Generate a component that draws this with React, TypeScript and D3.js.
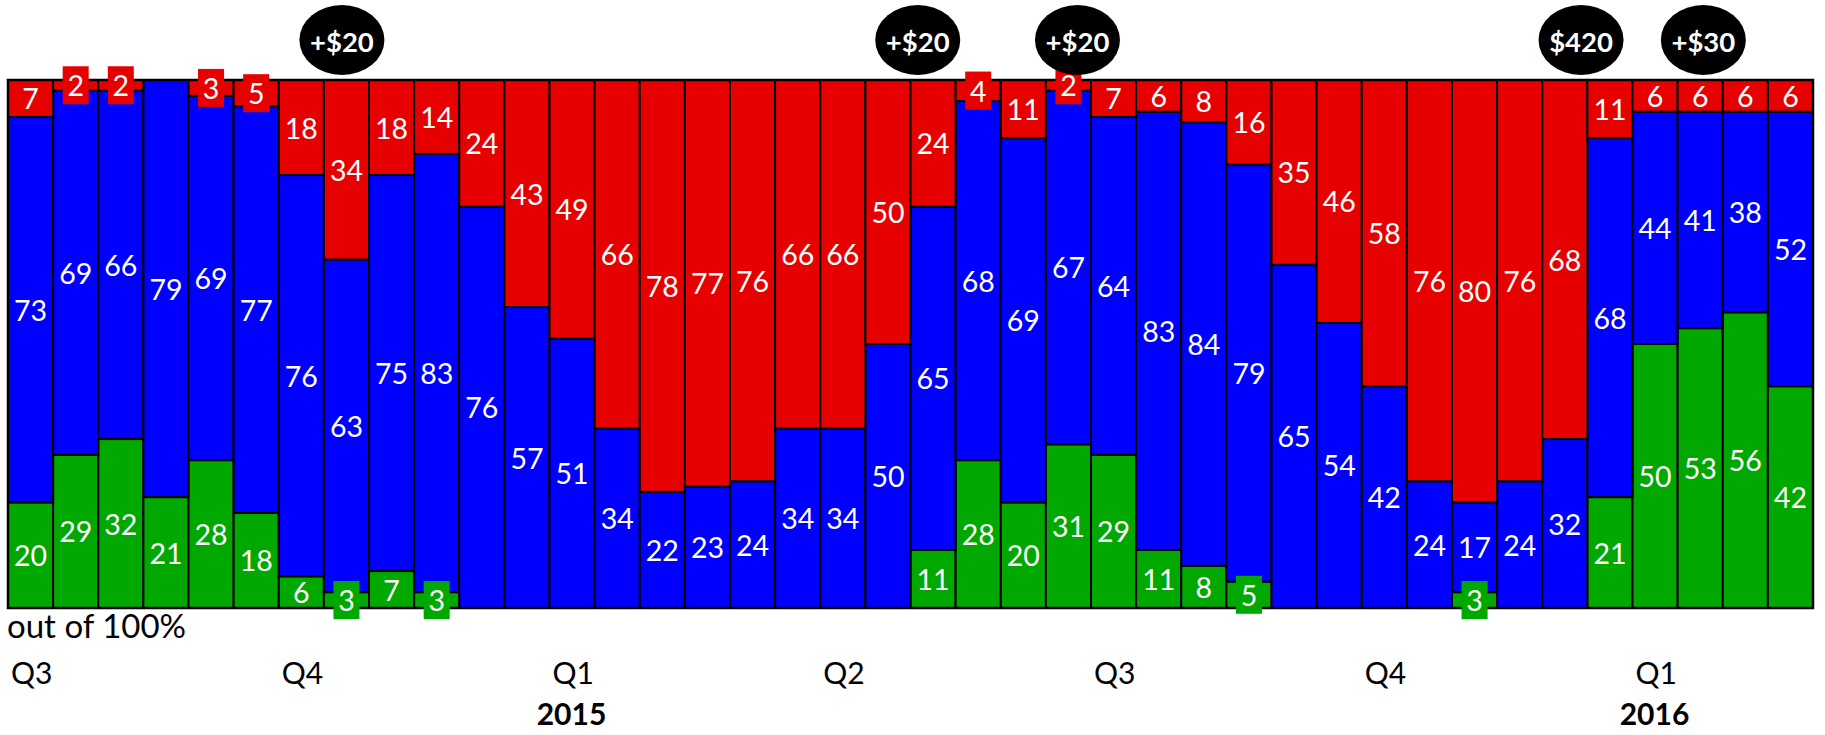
import React from "react";
import * as d3 from "d3";

const greenVals = [20,29,32,21,28,18,6,3,7,3,0,0,0,0,0,0,0,0,0,0,11,28,20,31,29,11,8,5,0,0,0,0,3,0,0,21,50,53,56,42];
const blueVals = [73,69,66,79,69,77,76,63,75,83,76,57,51,34,22,23,24,34,34,50,65,68,69,67,64,83,84,79,65,54,42,24,17,24,32,68,44,41,38,52];
const redVals = [7,2,2,0,3,5,18,34,18,14,24,43,49,66,78,77,76,66,66,50,24,4,11,2,7,6,8,16,35,46,58,76,80,76,68,11,6,6,6,6];

const quarterLabels = ["Q3","Q4","Q1","Q2","Q3","Q4","Q1"];
const quarterStarts = [0,6,12,18,24,30,36];
const yearLabels = ["2015","2016"];
const yearQuarterIdx = [2,6];

const bubbleLabels = ["+$20","+$20","+$20","$420","+$30"];
const bubblePos = [7.4,20.16,23.7,34.86,37.57];

const W = 1825, H = 735;
const FONT = "Lato, 'Open Sans', sans-serif";
const colors: Record<string,string> = { green: "#00A800", blue: "#0000FF", red: "#E60000" };
const keys = ["green","blue","red"];

export default function App() {
  const n = greenVals.length;
  const rows = d3.range(n).map(i => ({ i, green: greenVals[i], blue: blueVals[i], red: redVals[i] }));
  const x = d3.scaleBand<number>().domain(d3.range(n)).range([8, 1813]).padding(0);
  const xLin = d3.scaleLinear().domain([0, n]).range([8, 1813]);
  const y = d3.scaleLinear().domain([0, 100]).range([608, 80]);
  const series = d3.stack<any>().keys(keys)(rows);

  const segs: any[] = [];
  series.forEach(s => {
    s.forEach((d: any, i: number) => {
      const v = d[1] - d[0];
      segs.push({ key: s.key, i, v, y0: d[0], y1: d[1] });
    });
  });
  const bw = x.bandwidth();

  return (
    <svg width={W} height={H} style={{ position: "absolute", left: 0, top: 0 }} fontFamily={FONT}>
      <rect x={0} y={0} width={W} height={H} fill="#fff" />
      {segs.filter(s => s.v > 0).map((s, k) => (
        <rect key={"r" + k} x={x(s.i)} y={y(s.y1)} width={bw} height={y(s.y0) - y(s.y1)}
          fill={colors[s.key]} stroke="#000" strokeWidth={2} />
      ))}
      <rect x={x(0)} y={y(100)} width={x.range()[1] - x.range()[0]} height={y(0) - y(100)} fill="none" stroke="#000" strokeWidth={2.5} />
      {segs.filter(s => s.v > 0).map((s, k) => {
        const cx = (x(s.i) as number) + bw / 2;
        const cy = (y(s.y0) + y(s.y1)) / 2;
        const small = s.v <= 5;
        return (
          <g key={"l" + k}>
            {small && <rect x={cx - 13} y={cy - 19} width={26} height={38} fill={colors[s.key]} />}
            <text x={cx} y={cy} textAnchor="middle" dominantBaseline="central" fill="#fff" fontSize={28.5}>{s.v}</text>
          </g>
        );
      })}
      {bubbleLabels.map((b, k) => (
        <g key={"b" + k}>
          <ellipse cx={xLin(bubblePos[k])} cy={40} rx={42.5} ry={35} fill="#000" />
          <text x={xLin(bubblePos[k])} y={41} textAnchor="middle" dominantBaseline="central" fill="#fff" fontSize={27.5} fontWeight="bold">{b}</text>
        </g>
      ))}
      <text x={7} y={638} fontSize={33} fill="#000">out of 100%</text>
      {quarterLabels.map((q, k) => (
        <text key={"q" + k} x={(x(quarterStarts[k]) as number) + 3} y={684} fontSize={30} fill="#000">{q}</text>
      ))}
      {yearLabels.map((yl, k) => (
        <text key={"y" + k} x={(x(quarterStarts[yearQuarterIdx[k]]) as number) + 22} y={725} fontSize={30} fontWeight="bold" textAnchor="middle" fill="#000">{yl}</text>
      ))}
    </svg>
  );
}
